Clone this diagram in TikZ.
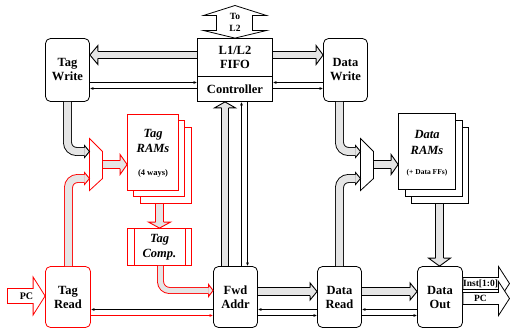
\documentclass[tikz,border=0pt]{standalone}
\usepackage{fontspec}
\setmainfont{Liberation Serif}
\usetikzlibrary{calc,arrows.meta}
\definecolor{fillg}{gray}{0.9}
\newcommand\lbl{\bfseries\fontsize{12.5}{14}\selectfont}
\newcommand\fathead[5]{%
  \filldraw[#1] ($(#2)!#4!90:(#3)$) -- ($(#2)!#5!90:(#3)$) -- (#3) -- ($(#2)!#5!-90:(#3)$) -- ($(#2)!#4!-90:(#3)$);}
\newcommand\fatarrow[8]{%
  \draw[#1, double distance=#3] #6 -- (#7);
  \fathead{#2}{#7}{#8}{#4}{#5}}
\newcommand\blockarrow[6]{%
  \filldraw[#1] ($(#2)!#5!90:(#4)$) -- ($(#3)!#5!90:(#4)$) -- ($(#3)!#6!90:(#4)$) -- (#4) -- ($(#3)!#6!-90:(#4)$) -- ($(#3)!#5!-90:(#4)$) -- ($(#2)!#5!-90:(#4)$) -- cycle;}
\begin{document}
\begin{tikzpicture}[x=1pt,y=-1pt,
  box/.style={draw, line width=0.8pt, rounded corners=5pt, inner sep=0pt, align=center, font=\lbl, fill=white},
  rbox/.style={box, draw=red},
  sq/.style={draw, line width=0.8pt, inner sep=0pt, align=center, fill=white},
  thinarr/.style={line width=0.75pt, -{Latex[length=3.5pt,width=3pt]}},
  gshaft/.style={line width=0.9pt, draw=black, double=fillg, rounded corners=9pt},
  rshaft/.style={gshaft, draw=red},
  ghead/.style={line width=0.9pt, draw=black, fill=fillg, line join=miter},
  rhead/.style={ghead, draw=red},
  wblock/.style={line width=0.8pt, draw=black, fill=white, line join=miter},
  rblock/.style={wblock, draw=red},
]
\useasboundingbox (-0.5,-0.5) rectangle (510.5,328.5);

% main blocks
\node[box, minimum width=44pt, minimum height=63pt] (tagwrite) at (67,69.5) {Tag\\Write};
\node[sq, minimum width=75pt, minimum height=38pt, font=\lbl] (fifo) at (234.5,57) {L1/L2\\FIFO};
\node[sq, minimum width=75pt, minimum height=25pt, font=\lbl] (ctrl) at (234.5,88.5) {Controller};
\node[box, minimum width=44pt, minimum height=63pt] (datawrite) at (345,69.5) {Data\\Write};
\node[rbox, minimum width=45pt, minimum height=61pt] (tagread) at (67.5,296.5) {Tag\\Read};
\node[box, minimum width=44pt, minimum height=61pt] (fwdaddr) at (235,296.5) {Fwd\\Addr};
\node[box, minimum width=44pt, minimum height=61pt] (dataread) at (339,296.5) {Data\\Read};
\node[box, minimum width=45pt, minimum height=61pt] (dataout) at (439.5,296.5) {Data\\Out};

% Tag RAMs stack
\node[sq, draw=red, minimum width=51pt, minimum height=76pt] (tagram3) at (165.5,165) {};
\node[sq, draw=red, minimum width=51pt, minimum height=76pt] (tagram2) at (158.5,158) {};
\node[sq, draw=red, minimum width=51pt, minimum height=76pt] (tagram1) at (152.5,152) {};
\node[font=\bfseries\itshape\fontsize{12.5}{15}\selectfont, align=center] (tagramlbl) at (152.5,140) {Tag\\RAMs};
\node[font=\bfseries\fontsize{8.5}{9}\selectfont] (tagramways) at (152.5,173) {(4 ways)};

% Tag Comp
\node[sq, draw=red, minimum width=64pt, minimum height=37pt, font=\bfseries\itshape\fontsize{12.5}{15}\selectfont] (tagcomp) at (159,246.5) {Tag\\Comp.};
\draw[red, line width=0.8pt] ($(tagcomp.north west)+(7,0)$) -- ($(tagcomp.south west)+(7,0)$);
\draw[red, line width=0.8pt] ($(tagcomp.north east)+(-7,0)$) -- ($(tagcomp.south east)+(-7,0)$);

% Data RAMs stack
\node[sq, minimum width=57pt, minimum height=76pt] (dataram3) at (439.5,165) {};
\node[sq, minimum width=57pt, minimum height=76pt] (dataram2) at (433.5,158) {};
\node[sq, minimum width=57pt, minimum height=76pt] (dataram1) at (426.5,151) {};
\node[font=\bfseries\itshape\fontsize{12.5}{16}\selectfont, align=center] (dataramlbl) at (426.5,141.5) {Data\\RAMs};
\node[font=\bfseries\fontsize{7.5}{8}\selectfont] (dataramffs) at (426.5,172) {(+ Data FFs)};

% muxes
\draw[red, line width=0.8pt, fill=white] (89,138) -- (102,151) -- (102,178) -- (89,190) -- cycle;
\coordinate (tm1) at (89,151); \coordinate (tm2) at (89,178); \coordinate (tmo) at (102,164);
\draw[line width=0.8pt, fill=white] (360,138) -- (373,151) -- (373,178) -- (360,190) -- cycle;
\coordinate (dm1) at (360,151); \coordinate (dm2) at (360,178); \coordinate (dmo) at (373,164);

% To L2
\coordinate (tol2) at (234.5,5);
\filldraw[wblock] (tol2) -- (266,15) -- (252,15) -- (252,30) -- (266,30) -- (fifo.north) -- (203,30) -- (216,30) -- (216,15) -- (203,15) -- cycle;
\node[font=\bfseries\fontsize{9.5}{12}\selectfont, align=center] (tol2lbl) at (234.5,22) {To\\L2};

% fat arrows
\coordinate (aAs) at (fifo.west |- 0,54.5); \coordinate (aAt) at (tagwrite.east |- 0,54.5); \coordinate (aAb) at ($(aAt)+(8,0)$);
\fatarrow{gshaft}{ghead}{6.1pt}{3.5pt}{9.5pt}{(aAs)}{aAb}{aAt}
\coordinate (aBs) at (fifo.east |- 0,54.5); \coordinate (aBt) at (datawrite.west |- 0,54.5); \coordinate (aBb) at ($(aBt)+(-7,0)$);
\fatarrow{gshaft}{ghead}{6.1pt}{3.5pt}{9.5pt}{(aBs)}{aBb}{aBt}
\coordinate (aCs) at (224.5,0 |- fwdaddr.north); \coordinate (aCt) at (224.5,0 |- ctrl.south); \coordinate (aCb) at ($(aCt)+(0,6)$);
\fatarrow{gshaft}{ghead}{6.1pt}{3.5pt}{10.5pt}{(aCs)}{aCb}{aCt}
\coordinate (aDb) at (84,151);
\fatarrow{gshaft}{ghead}{7.1pt}{4pt}{6pt}{(tagwrite.south) -- (67,151)}{aDb}{tm1}
\coordinate (aEb) at (84,178); \coordinate (aEs) at (68,0 |- tagread.north);
\fatarrow{rshaft}{rhead}{7.1pt}{4pt}{6pt}{(aEs) -- (68,178)}{aEb}{tm2}
\coordinate (aFt) at (tagram1.west |- 0,164); \coordinate (aFb) at ($(aFt)+(-7,0)$);
\fatarrow{rshaft}{rhead}{7.1pt}{4pt}{10pt}{(tmo)}{aFb}{aFt}
\coordinate (aGs) at (159,0 |- tagram3.south); \coordinate (aGt) at (159,0 |- tagcomp.north); \coordinate (aGb) at ($(aGt)+(0,-6)$);
\fatarrow{rshaft}{rhead}{7.1pt}{4pt}{11pt}{(aGs)}{aGb}{aGt}
\coordinate (aHs) at (160,0 |- tagcomp.south); \coordinate (aHt) at (fwdaddr.west |- 0,290); \coordinate (aHb) at ($(aHt)+(-4.5,0)$);
\fatarrow{rshaft}{rhead}{5.1pt}{3pt}{6pt}{(aHs) -- (160,290)}{aHb}{aHt}
\coordinate (aIs) at (fwdaddr.east |- 0,291); \coordinate (aIt) at (dataread.west |- 0,291); \coordinate (aIb) at ($(aIt)+(-7,0)$);
\fatarrow{gshaft}{ghead}{7.1pt}{4pt}{8.5pt}{(aIs)}{aIb}{aIt}
\coordinate (aJs) at (dataread.east |- 0,291); \coordinate (aJt) at (dataout.west |- 0,291); \coordinate (aJb) at ($(aJt)+(-7,0)$);
\fatarrow{gshaft}{ghead}{7.1pt}{4pt}{8.5pt}{(aJs)}{aJb}{aJt}
\coordinate (aKs) at (339,0 |- datawrite.south); \coordinate (aKb) at (355,151);
\fatarrow{gshaft}{ghead}{7.1pt}{4pt}{6pt}{(aKs) -- (339,151)}{aKb}{dm1}
\coordinate (aLs) at (339,0 |- dataread.north); \coordinate (aLb) at (355,178);
\fatarrow{gshaft}{ghead}{7.1pt}{4pt}{6pt}{(aLs) -- (339,178)}{aLb}{dm2}
\coordinate (aMt) at (dataram1.west |- 0,164); \coordinate (aMb) at ($(aMt)+(-7,0)$);
\fatarrow{gshaft}{ghead}{7.1pt}{4pt}{10pt}{(dmo)}{aMb}{aMt}
\coordinate (aNs) at (439,0 |- dataram3.south); \coordinate (aNt) at (439,0 |- dataout.north); \coordinate (aNb) at ($(aNt)+(0,-8)$);
\fatarrow{gshaft}{ghead}{7.1pt}{4pt}{11pt}{(aNs)}{aNb}{aNt}

% PC input
\coordinate (pcs) at (7,295.5); \coordinate (pct) at (tagread.west |- 0,295.5); \coordinate (pcb) at ($(pct)+(-12,0)$);
\blockarrow{rblock}{pcs}{pcb}{pct}{7.5pt}{19pt}
\node[font=\bfseries\fontsize{10}{10}\selectfont] (pclbl) at (26,295.5) {PC};

% outputs
\coordinate (o1s) at (dataout.east |- 0,283); \coordinate (o1t) at (509,283); \coordinate (o1b) at (498,283);
\blockarrow{wblock}{o1s}{o1b}{o1t}{6pt}{17pt}
\coordinate (o2s) at (dataout.east |- 0,298); \coordinate (o2t) at (509,298); \coordinate (o2b) at (498,298);
\blockarrow{wblock}{o2s}{o2b}{o2t}{6pt}{17pt}
\node[font=\bfseries\fontsize{9.5}{10}\selectfont] (o1lbl) at (480,283) {Inst[1:0]};
\node[font=\bfseries\fontsize{9.5}{10}\selectfont] (o2lbl) at (480,298) {PC};

% thin control lines
\draw[thinarr] (tagwrite.east |- 0,82) -- (ctrl.west |- 0,82);
\draw[thinarr] (ctrl.west |- 0,88) -- (tagwrite.east |- 0,88);
\draw[thinarr] (datawrite.west |- 0,82) -- (ctrl.east |- 0,82);
\draw[thinarr] (ctrl.east |- 0,88) -- (datawrite.west |- 0,88);
\draw[thinarr] (241,0 |- fwdaddr.north) -- (241,0 |- ctrl.south);
\draw[thinarr] (247,0 |- ctrl.south) -- (247,0 |- fwdaddr.north);
\draw[thinarr] (fwdaddr.west |- 0,309) -- (tagread.east |- 0,309);
\draw[thinarr, red] (tagread.east |- 0,315) -- (fwdaddr.west |- 0,315);
\draw[thinarr] (dataread.west |- 0,309) -- (fwdaddr.east |- 0,309);
\draw[thinarr] (fwdaddr.east |- 0,315) -- (dataread.west |- 0,315);
\draw[thinarr] (dataout.west |- 0,309) -- (dataread.east |- 0,309);
\draw[thinarr] (dataread.east |- 0,315) -- (dataout.west |- 0,315);
\end{tikzpicture}
\end{document}
